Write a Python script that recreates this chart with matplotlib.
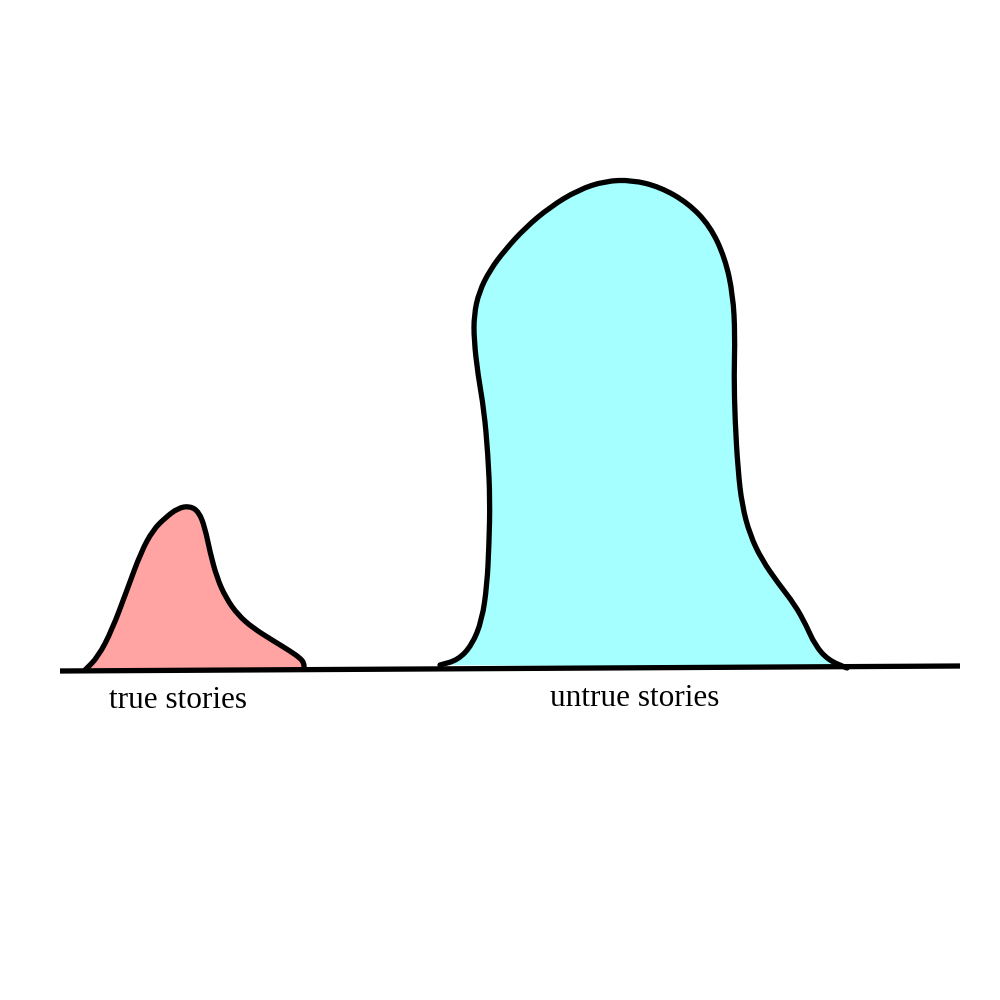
import matplotlib
matplotlib.use("Agg")
import matplotlib.pyplot as plt
from matplotlib.path import Path
from matplotlib.patches import PathPatch

# Outline of the "true stories" blob (pixel-space coordinates, y downward)
true_x = [85, 98, 112, 127, 141, 153, 165, 178, 190, 199, 205, 210, 217, 226, 238, 253, 272, 290, 300, 304, 304]
true_y = [670, 657, 630, 590, 552, 530, 518, 508, 506, 512, 528, 552, 578, 598, 615, 628, 640, 651, 658, 663, 669]

# Outline of the "untrue stories" blob
untrue_x = [440, 458, 472, 482, 487, 489, 490, 488, 484, 478, 474, 474, 479, 490, 505, 525, 550, 578, 605,
            632, 660, 688, 710, 725, 733, 735, 734, 735, 738, 742, 750, 762, 778, 795, 806, 815, 828, 847]
untrue_y = [665, 660, 645, 620, 585, 545, 500, 455, 410, 375, 340, 315, 292, 270, 250, 228, 207, 190, 181,
            180, 187, 203, 226, 258, 295, 335, 375, 420, 470, 505, 535, 560, 583, 605, 625, 645, 660, 668]

baseline_x = [60, 960]
baseline_y = [671, 666]

labels = ["true stories", "untrue stories"]
label_x = [178, 635]
label_y = [701, 698]


def smooth_path(xs, ys, close=False):
    pts = list(zip(xs, ys))
    verts = [pts[0]]
    codes = [Path.MOVETO]
    mids = [((a[0] + b[0]) / 2, (a[1] + b[1]) / 2) for a, b in zip(pts[:-1], pts[1:])]
    verts.append(mids[0]); codes.append(Path.LINETO)
    for i in range(1, len(pts) - 1):
        verts += [pts[i], mids[i]]
        codes += [Path.CURVE3, Path.CURVE3]
    verts.append(pts[-1]); codes.append(Path.LINETO)
    if close:
        verts.append(pts[0]); codes.append(Path.LINETO)
    return Path(verts, codes)


fig = plt.figure(figsize=(10, 10), dpi=100)
ax = fig.add_axes([0, 0, 1, 1])
ax.set_xlim(0, 1000)
ax.set_ylim(1000, 0)
ax.axis("off")

for xs, ys, col in [(true_x, true_y, "#FFA3A3"), (untrue_x, untrue_y, "#A6FFFF")]:
    ax.add_patch(PathPatch(smooth_path(xs, ys, close=True), facecolor=col, edgecolor="none", zorder=1))
    ax.add_patch(PathPatch(smooth_path(xs, ys), facecolor="none", edgecolor="black", lw=3.8,
                           joinstyle="round", capstyle="round", zorder=3))

ax.plot(baseline_x, baseline_y, color="black", lw=3.8, solid_capstyle="butt", zorder=4)

for t, x, y in zip(labels, label_x, label_y):
    ax.text(x, y, t, ha="center", va="center", fontsize=22.5, family="Liberation Serif", color="black")

fig.savefig("out.png", dpi=100, facecolor="white")
